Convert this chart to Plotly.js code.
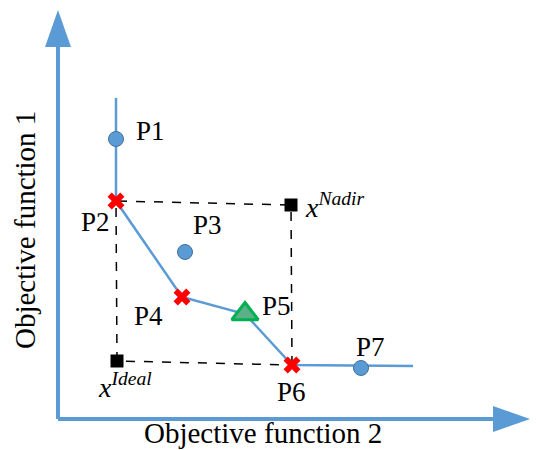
<!DOCTYPE html>
<html>
<head>
<meta charset="utf-8">
<script src="https://cdn.plot.ly/plotly-3.0.1.min.js"></script>
<style>
  body { margin: 0; background: #fff; }
</style>
</head>
<body>
<div id="plot" style="width:537px;height:450px;"></div>
<script>
// Pareto front (objective 2 on x, objective 1 on y)
let frontX = [58, 58, 124, 187, 234, 355];
let frontY = [321, 218, 122, 105, 54, 53];

// Dominated points
let domNames = ["P1", "P3", "P7"];
let domX = [58, 127, 303];
let domY = [280, 167, 51];

// Non-dominated (extreme / selected) points
let paretoNames = ["P2", "P4", "P6"];
let paretoX = [58, 124, 234];
let paretoY = [218, 122, 54];

// Compromise solution
let bestName = ["P5"];
let bestX = [187];
let bestY = [105];

// Reference points
let refNames = ["Nadir", "Ideal"];
let refX = [233, 59];
let refY = [214, 58];

// Dashed box P6 -> Nadir -> P2 -> Ideal -> P6
let boxX = [paretoX[2], refX[0], paretoX[0], refX[1], paretoX[2]];
let boxY = [paretoY[2], refY[0], paretoY[0], refY[1], paretoY[2]];

let blue = "#5b9bd5";
let serif = "Liberation Serif, Times New Roman, serif";

let traces = [
  {
    x: [0, 0, null, 0, 440], y: [374, 0, null, 0, 0],
    mode: "lines", line: {color: blue, width: 4}, hoverinfo: "skip"
  },
  {
    x: boxX, y: boxY, mode: "lines",
    line: {color: "black", width: 1.5, dash: "dash"}
  },
  {
    x: frontX, y: frontY, mode: "lines",
    line: {color: blue, width: 2.5}
  },
  {
    x: domX, y: domY, mode: "markers",
    marker: {symbol: "circle", size: 15, color: blue, line: {color: "#41719c", width: 1}}
  },
  {
    x: paretoX, y: paretoY, mode: "markers",
    marker: {symbol: "x", size: 15, color: "#ff0000", line: {width: 0}}
  },
  {
    x: bestX, y: bestY, mode: "markers",
    marker: {symbol: "triangle-up", size: 23, color: "#5bb08a", line: {color: "#00b050", width: 3}}
  },
  {
    x: refX, y: refY, mode: "markers",
    marker: {symbol: "square", size: 13, color: "black"}
  }
];

// Label positions for points
let labels = [
  {t: "P1", x: 92, y: 288}, {t: "P2", x: 37, y: 197}, {t: "P3", x: 149, y: 194},
  {t: "P4", x: 90, y: 103}, {t: "P5", x: 218, y: 113}, {t: "P6", x: 233, y: 27},
  {t: "P7", x: 312, y: 72}
];

let annotations = labels.map(l => ({
  x: l.x, y: l.y, text: l.t, showarrow: false,
  font: {family: serif, size: 27, color: "black"}
}));

annotations.push(
  {x: 245, y: 214, xanchor: "left", text: "<i>x</i><sup><i>" + refNames[0] + "</i></sup>", showarrow: false,
   font: {family: serif, size: 28, color: "black"}},
  {x: 67, y: 34, text: "<i>x</i><sup><i>" + refNames[1] + "</i></sup>", showarrow: false,
   font: {family: serif, size: 28, color: "black"}},
  {x: 205, y: -14, text: "Objective function 2", showarrow: false,
   font: {family: serif, size: 29, color: "black"}},
  {x: -33, y: 189, text: "Objective function 1", textangle: -90, showarrow: false,
   font: {family: serif, size: 29, color: "black"}}
);

let layout = {
  width: 537,
  height: 450,
  margin: {l: 0, r: 0, t: 0, b: 0},
  showlegend: false,
  paper_bgcolor: "white",
  plot_bgcolor: "white",
  xaxis: {range: [-58, 479], visible: false, fixedrange: true},
  yaxis: {range: [-31, 419], visible: false, fixedrange: true},
  annotations: annotations,
  shapes: [
    // axis arrow heads
    {type: "path", xref: "x", yref: "y", path: "M -13 372 L 13 372 L 0 409 Z",
     fillcolor: blue, line: {width: 0}},
    {type: "path", xref: "x", yref: "y", path: "M 435 -13 L 435 13 L 472 0 Z",
     fillcolor: blue, line: {width: 0}}
  ]
};

Plotly.newPlot("plot", traces, layout, {staticPlot: true});
</script>
</body>
</html>
